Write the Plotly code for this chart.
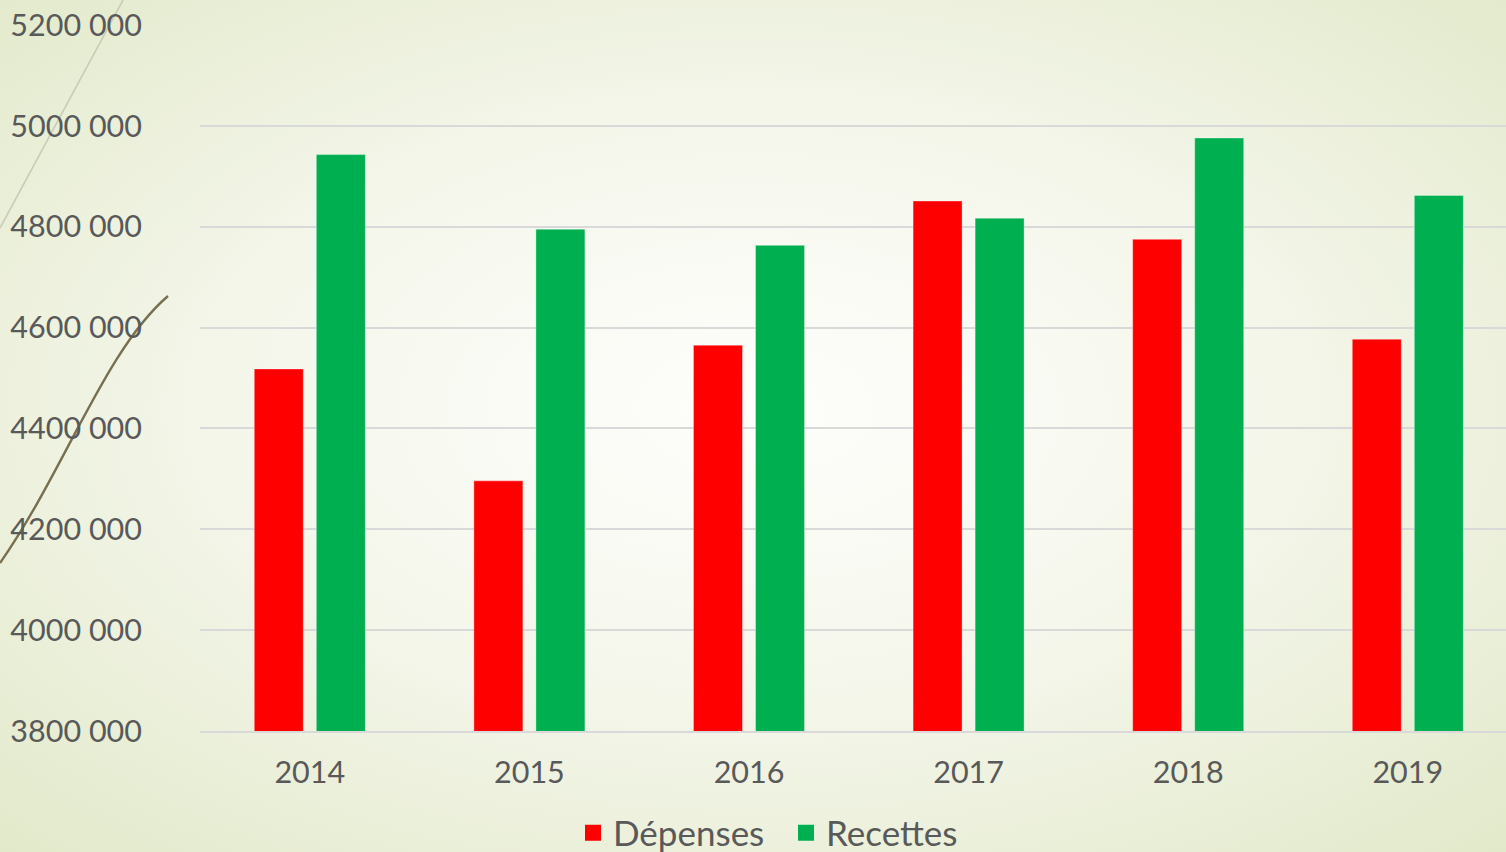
import base64
import plotly.graph_objects as go

years = ["2014", "2015", "2016", "2017", "2018", "2019"]
depenses = [4518000, 4296000, 4565000, 4851000, 4775000, 4577000]
recettes = [4943000, 4795000, 4763000, 4817000, 4976000, 4862000]
y_ticks = [3800000, 4000000, 4200000, 4400000, 4600000, 4800000, 5000000, 5200000]
y_tick_labels = ["3800 000", "4000 000", "4200 000", "4400 000", "4600 000",
                 "4800 000", "5000 000", "5200 000"]
series_names = ["Dépenses", "Recettes"]
series_colors = ["#FF0000", "#00B050"]

W, H = 1506, 852
ML, MR, MT, MB = 200, 0, 25, 121
PW, PH = W - ML - MR, H - MT - MB

svg = f'''<svg xmlns="http://www.w3.org/2000/svg" width="{W}" height="{H}" viewBox="0 0 {W} {H}">
<defs><radialGradient id="g" cx="50%" cy="48%" r="72%">
<stop offset="0" stop-color="#FEFEFC"/><stop offset="0.45" stop-color="#F5F7EC"/>
<stop offset="1" stop-color="#E2E9CA"/></radialGradient></defs>
<rect width="{W}" height="{H}" fill="url(#g)"/>
<path d="M123,0 L0,228" stroke="#C9CDB7" stroke-width="1.6" fill="none"/>
<path d="M168,296 C105,350 65,470 0,563" stroke="#776F4F" stroke-width="2.4" fill="none"/>
</svg>'''
src = "data:image/svg+xml;base64," + base64.b64encode(svg.encode()).decode()

font = "Lato"
txt = "#595959"

fig = go.Figure()
for name, vals, col in zip(series_names, [depenses, recettes], series_colors):
    fig.add_trace(go.Bar(x=years, y=vals, name=name, showlegend=False,
                         marker=dict(color=col, line=dict(color="rgba(255,255,255,0.35)", width=1))))
# legend entries with larger square swatches
for name, col in zip(series_names, series_colors):
    fig.add_trace(go.Scatter(x=[None], y=[None], name=name, mode="markers",
                             marker=dict(symbol="square", size=16, color=col), showlegend=True))

fig.update_layout(
    width=W, height=H,
    margin=dict(l=ML, r=MR, t=MT, b=MB, pad=0, autoexpand=False),
    paper_bgcolor="#EEF2E0",
    plot_bgcolor="rgba(0,0,0,0)",
    barmode="group", bargap=0.435, bargroupgap=0.21,
    font=dict(family=font, color=txt, size=30.5),
    showlegend=True,
    legend=dict(orientation="h", xanchor="left", x=(573 - ML) / PW,
                yanchor="middle", y=-102 / PH, font=dict(size=35, color=txt),
                bgcolor="rgba(0,0,0,0)", itemsizing="trace",
                entrywidth=168, entrywidthmode="pixels"),
    images=[dict(source=src, xref="paper", yref="paper", x=-ML / PW, y=1 + MT / PH,
                 sizex=W / PW, sizey=H / PH, sizing="stretch", layer="below",
                 xanchor="left", yanchor="top")],
    xaxis=dict(range=[-0.5, -0.5 + PW / 219.6], showgrid=False, showline=True,
               linecolor="#D9D9D9", linewidth=2, ticks="", ticklabelstandoff=13,
               tickfont=dict(size=30.5, color=txt), fixedrange=True),
    yaxis=dict(range=[3800000, 5200000], tickvals=y_ticks, ticktext=y_tick_labels,
               showgrid=True, gridcolor="#D9D9D9", gridwidth=2, zeroline=False,
               showline=False, ticks="", ticklabelstandoff=57,
               tickfont=dict(size=30.5, color=txt)),
)

fig.write_html("out.html", config={"displayModeBar": False},
               post_script="document.body.style.margin='0';document.body.style.overflow='hidden';")
